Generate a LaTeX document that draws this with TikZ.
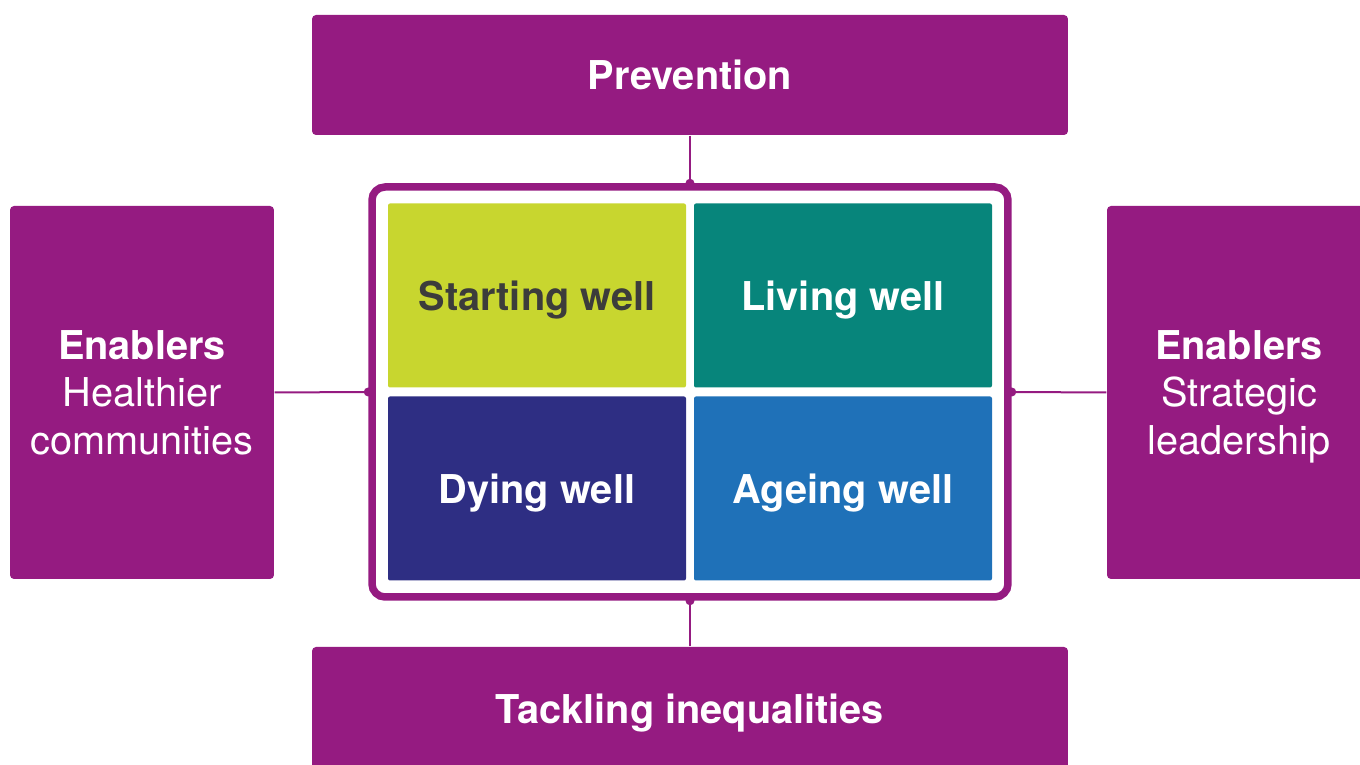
\documentclass[tikz,border=0pt]{standalone}
\usepackage{fontspec}
\setmainfont{TeX Gyre Heros}
\definecolor{plum}{HTML}{951B81}
\definecolor{lime}{HTML}{C8D62F}
\definecolor{teal}{HTML}{07857B}
\definecolor{navy}{HTML}{2E2E83}
\definecolor{sky}{HTML}{1F71B8}
\definecolor{ink}{HTML}{3C3C3B}
\begin{document}
\begin{tikzpicture}[x=0.1mm,y=-0.1mm,
  pbox/.style={shape=rectangle,fill=plum,rounded corners=0.4mm,text=white,align=center,inner sep=0pt,text depth=0pt,font=\fontsize{11.3}{13.4}\selectfont},
  quad/.style={shape=rectangle,rounded corners=0.2mm,minimum width=29.8mm,minimum height=18.4mm,inner sep=0pt,text depth=0pt,text=white,font=\fontsize{11.3}{13.4}\selectfont\bfseries},
  link/.style={plum,line width=0.2mm},
  dot/.style={fill=plum}]
\def\qx{153};
\def\qy{96.5};

\useasboundingbox (0,0) rectangle (1360,765);

\node[pbox,minimum width=75.6mm,minimum height=12mm] (prev) at (690,75) {\bfseries Prevention};
\node[pbox,minimum width=75.6mm,minimum height=12.4mm] (tackle) at (690,709) {\bfseries Tackling inequalities};
\node[pbox,minimum width=26.4mm,minimum height=37.3mm] (enabL) at (142,392.5) {\textbf{Enablers}\\Healthier\\communities};
\node[pbox,minimum width=26.4mm,minimum height=37.3mm] (enabR) at (1239,392.5) {\textbf{Enablers}\\Strategic\\leadership};

\node[draw=plum,line width=0.75mm,rounded corners=1.3mm,minimum width=63.6mm,minimum height=41mm] (frame) at (690,392) {};

\node[quad,fill=lime,text=ink] (start) at (690-\qx,392-\qy) {Starting well};
\node[quad,fill=teal] (living) at (690+\qx,392-\qy) {Living well};
\node[quad,fill=navy] (dying) at (690-\qx,392+\qy) {Dying well};
\node[quad,fill=sky] (ageing) at (690+\qx,392+\qy) {Ageing well};

\draw[link] (prev.south) -- (frame.north);
\draw[link] (tackle.north) -- (frame.south);
\draw[link] (enabL.east) -- (frame.west);
\draw[link] (enabR.west) -- (frame.east);
\foreach \a in {north,south,west,east}
  \fill[dot] (frame.\a) circle (0.45mm);
\end{tikzpicture}
\end{document}
